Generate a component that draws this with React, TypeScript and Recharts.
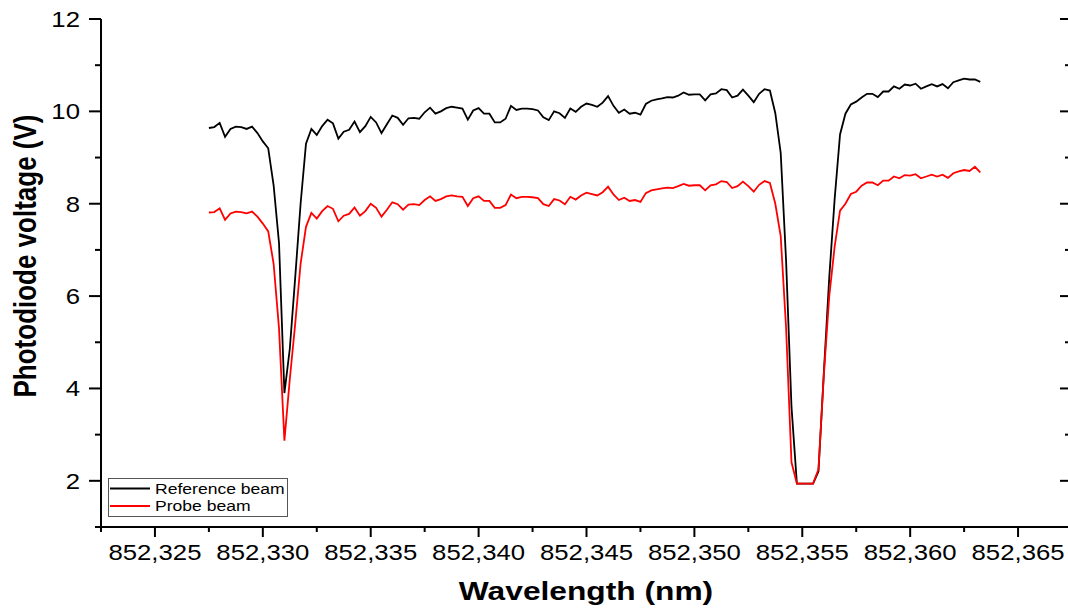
import { LineChart, Line, XAxis, YAxis, Legend } from "recharts";

// wavelength grid (nm)
const wavelengths = [
  852.3275, 852.32775, 852.328, 852.32825, 852.3285, 852.32875, 852.329, 852.32925,
  852.3295, 852.32975, 852.33, 852.33025, 852.3305, 852.33075, 852.331, 852.33125,
  852.3315, 852.33175, 852.332, 852.33225, 852.3325, 852.33275, 852.333, 852.33325,
  852.3335, 852.33375, 852.334, 852.33425, 852.3345, 852.33475, 852.335, 852.33525,
  852.3355, 852.33575, 852.336, 852.33625, 852.3365, 852.33675, 852.337, 852.33725,
  852.3375, 852.33775, 852.338, 852.33825, 852.3385, 852.33875, 852.339, 852.33925,
  852.3395, 852.33975, 852.34, 852.34025, 852.3405, 852.34075, 852.341, 852.34125,
  852.3415, 852.34175, 852.342, 852.34225, 852.3425, 852.34275, 852.343, 852.34325,
  852.3435, 852.34375, 852.344, 852.34425, 852.3445, 852.34475, 852.345, 852.34525,
  852.3455, 852.34575, 852.346, 852.34625, 852.3465, 852.34675, 852.347, 852.34725,
  852.3475, 852.34775, 852.348, 852.34825, 852.3485, 852.34875, 852.349, 852.34925,
  852.3495, 852.34975, 852.35, 852.35025, 852.3505, 852.35075, 852.351, 852.35125,
  852.3515, 852.35175, 852.352, 852.35225, 852.3525, 852.35275, 852.353, 852.35325,
  852.3535, 852.35375, 852.354, 852.35425, 852.3545, 852.35475, 852.355, 852.35525,
  852.3555, 852.35575, 852.356, 852.35625, 852.3565, 852.35675, 852.357, 852.35725,
  852.3575, 852.35775, 852.358, 852.35825, 852.3585, 852.35875, 852.359, 852.35925,
  852.3595, 852.35975, 852.36, 852.36025, 852.3605, 852.36075, 852.361, 852.36125,
  852.3615, 852.36175, 852.362, 852.36225, 852.3625, 852.36275, 852.363, 852.36325,
];

// photodiode voltage (V)
const referenceBeam = [
  9.64, 9.66, 9.75, 9.45, 9.62, 9.67, 9.66, 9.62,
  9.67, 9.53, 9.35, 9.2, 8.4, 7.15, 3.9, 4.86,
  6.4, 8.0, 9.3, 9.62, 9.49, 9.68, 9.82, 9.74,
  9.41, 9.56, 9.6, 9.78, 9.55, 9.68, 9.88, 9.76,
  9.53, 9.72, 9.91, 9.86, 9.71, 9.85, 9.86, 9.84,
  9.98, 10.08, 9.95, 10.0, 10.07, 10.1, 10.08, 10.06,
  9.82, 10.02, 10.07, 9.95, 9.95, 9.76, 9.76, 9.84,
  10.12, 10.03, 10.06, 10.06, 10.05, 10.02, 9.87, 9.81,
  10.0, 9.96, 9.86, 10.06, 9.99, 10.1, 10.17, 10.14,
  10.1, 10.19, 10.33, 10.12, 9.97, 10.04, 9.95, 9.97,
  9.93, 10.16, 10.23, 10.26, 10.28, 10.31, 10.3, 10.34,
  10.41, 10.36, 10.37, 10.37, 10.24, 10.37, 10.39, 10.48,
  10.46, 10.3, 10.34, 10.47, 10.34, 10.2, 10.38, 10.48,
  10.45, 9.96, 9.1, 6.76, 3.6, 1.94, 1.94, 1.94,
  1.94, 2.2, 4.35, 6.4, 8.1, 9.5, 9.95, 10.15,
  10.21, 10.3, 10.38, 10.38, 10.31, 10.43, 10.43, 10.54,
  10.49, 10.58, 10.56, 10.6, 10.49, 10.54, 10.59, 10.54,
  10.59, 10.5, 10.63, 10.67, 10.71, 10.69, 10.69, 10.64,
];

const probeBeam = [
  7.81, 7.82, 7.9, 7.65, 7.79, 7.83, 7.82, 7.79,
  7.83, 7.72, 7.57, 7.4, 6.7, 5.3, 2.87, 4.2,
  5.4, 6.7, 7.5, 7.8, 7.68, 7.84, 7.95, 7.89,
  7.62, 7.74, 7.78, 7.92, 7.74, 7.84, 8.0, 7.91,
  7.72, 7.87, 8.03, 7.99, 7.87, 7.98, 7.99, 7.97,
  8.08, 8.16, 8.06, 8.1, 8.16, 8.18, 8.16, 8.15,
  7.95, 8.12, 8.16, 8.06, 8.06, 7.91, 7.91, 7.97,
  8.2, 8.12, 8.15, 8.15, 8.14, 8.12, 7.99, 7.95,
  8.1, 8.07, 7.99, 8.15, 8.09, 8.18, 8.24, 8.21,
  8.18, 8.25, 8.37, 8.2, 8.08, 8.13, 8.06, 8.08,
  8.04, 8.23, 8.29, 8.31, 8.33, 8.35, 8.34, 8.38,
  8.43, 8.39, 8.4, 8.4, 8.29, 8.4, 8.42, 8.49,
  8.47, 8.34, 8.38, 8.48, 8.38, 8.26, 8.41, 8.49,
  8.45, 8.0, 7.3, 5.31, 2.4, 1.94, 1.94, 1.94,
  1.94, 2.25, 4.3, 6.0, 7.07, 7.85, 8.0, 8.21,
  8.26, 8.39, 8.46, 8.46, 8.4, 8.5, 8.5, 8.59,
  8.55, 8.62, 8.61, 8.64, 8.55, 8.59, 8.63, 8.59,
  8.63, 8.56, 8.66, 8.7, 8.73, 8.71, 8.8, 8.68,
];

const seriesNames = ["Reference beam", "Probe beam"];
const xMajorTicks = [852.325, 852.33, 852.335, 852.34, 852.345, 852.35, 852.355, 852.36, 852.365];
const xMinorTicks = [852.3225, 852.3275, 852.3325, 852.3375, 852.3425, 852.3475, 852.3525, 852.3575, 852.3625, 852.3675];
const yMajorTicks = [2, 4, 6, 8, 10, 12];
const yMinorTicks = [1, 3, 5, 7, 9, 11];

const data = wavelengths.map((wl, i) => ({
  wl,
  reference: referenceBeam[i],
  probe: probeBeam[i],
}));

const xTicks = [...xMinorTicks, ...xMajorTicks].sort((a, b) => a - b);
const yTicks = [...yMinorTicks, ...yMajorTicks].sort((a, b) => a - b);
const xDomain = [852.3225, 852.3675];
const yDomain = [1, 12];

const FONT = '"Liberation Sans", Arial, sans-serif';
const STRETCH = 1.17;
const axisLine = { stroke: "#000", strokeWidth: 2 };

const isMajor = (v: number, majors: number[]) =>
  majors.some((m) => Math.abs(m - v) < 1e-7);

function BottomTick(props: any) {
  const { x, y, payload } = props;
  const major = isMajor(payload.value, xMajorTicks);
  return (
    <g>
      <line x1={x} x2={x} y1={y} y2={y + (major ? 10 : 5)} stroke="#000" strokeWidth={2} />
      {major && (
        <text
          transform={`translate(${x},${y + 33}) scale(${STRETCH},1)`}
          textAnchor="middle"
          fontFamily={FONT}
          fontSize={22}
          fill="#000"
        >
          {Number(payload.value).toFixed(3).replace(".", ",")}
        </text>
      )}
    </g>
  );
}

function TopTick(props: any) {
  const { x, y, payload } = props;
  const major = isMajor(payload.value, xMajorTicks);
  return <line x1={x} x2={x} y1={y} y2={y + (major ? 10 : 5)} stroke="#000" strokeWidth={2} />;
}

function LeftTick(props: any) {
  const { x, y, payload } = props;
  const major = isMajor(payload.value, yMajorTicks);
  return (
    <g>
      <line x1={x - (major ? 12 : 6)} x2={x} y1={y} y2={y} stroke="#000" strokeWidth={2} />
      {major && (
        <text
          transform={`translate(${x - 21},${y + 8}) scale(${STRETCH},1)`}
          textAnchor="end"
          fontFamily={FONT}
          fontSize={22}
          fill="#000"
        >
          {payload.value}
        </text>
      )}
    </g>
  );
}

function RightTick(props: any) {
  const { x, y, payload } = props;
  const major = isMajor(payload.value, yMajorTicks);
  return <line x1={x - (major ? 12 : 7)} x2={x} y1={y} y2={y} stroke="#000" strokeWidth={2} />;
}

function LegendBox({ payload }: any) {
  const items = [...(payload || [])].sort(
    (a: any, b: any) => seriesNames.indexOf(a.value) - seriesNames.indexOf(b.value)
  );
  return (
    <svg width={180} height={39} style={{ display: "block" }}>
      <rect x={0.5} y={0.5} width={179} height={38} fill="#fff" stroke="#555" strokeWidth={1} />
      {items.map((entry: any, i: number) => (
        <g key={entry.value}>
          <line x1={2} x2={42} y1={10.5 + i * 17.5} y2={10.5 + i * 17.5} stroke={entry.color} strokeWidth={1.8} />
          <text
            transform={`translate(47,${15.5 + i * 17.5}) scale(${STRETCH},1)`}
            fontFamily={FONT}
            fontSize={15}
            fill="#000"
          >
            {entry.value}
          </text>
        </g>
      ))}
    </svg>
  );
}

export default function App() {
  return (
    <div
      style={{
        position: "fixed",
        left: 0,
        top: 0,
        width: 1068,
        height: 610,
        overflow: "hidden",
        background: "#fff",
      }}
    >
      <div style={{ position: "absolute", left: 8, top: 8 }}>
        <LineChart
          width={1075}
          height={602}
          data={data}
          margin={{ top: 11, right: 0, bottom: 0, left: 0 }}
        >
          <XAxis
            dataKey="wl"
            type="number"
            domain={xDomain}
            allowDataOverflow
            ticks={xTicks}
            interval={0}
            height={83}
            tickSize={0}
            tickMargin={0}
            tickLine={false}
            axisLine={axisLine}
            tick={<BottomTick />}
          />
          <XAxis
            xAxisId="top"
            orientation="top"
            type="number"
            domain={xDomain}
            allowDataOverflow
            ticks={xTicks}
            interval={0}
            height={0}
            tickSize={0}
            tickMargin={0}
            tickLine={false}
            axisLine={axisLine}
            tick={<TopTick />}
          />
          <YAxis
            type="number"
            domain={yDomain}
            allowDataOverflow
            ticks={yTicks}
            interval={0}
            width={93}
            tickSize={0}
            tickMargin={0}
            tickLine={false}
            axisLine={axisLine}
            tick={<LeftTick />}
          />
          <YAxis
            yAxisId="right"
            orientation="right"
            type="number"
            domain={yDomain}
            allowDataOverflow
            ticks={yTicks}
            interval={0}
            width={11}
            tickSize={0}
            tickMargin={0}
            tickLine={false}
            axisLine={axisLine}
            tick={<RightTick />}
          />
          <Legend
            layout="vertical"
            align="center"
            verticalAlign="middle"
            wrapperStyle={{ left: 100, top: 470, width: 180, height: 39 }}
            content={(props: any) => <LegendBox payload={props.payload} />}
          />
          <Line
            type="linear"
            dataKey="reference"
            name="Reference beam"
            stroke="#000000"
            strokeWidth={1.8}
            dot={false}
            isAnimationActive={false}
          />
          <Line
            type="linear"
            dataKey="probe"
            name="Probe beam"
            stroke="#ff0000"
            strokeWidth={1.8}
            dot={false}
            isAnimationActive={false}
          />
          <text
            transform={`translate(578,592) scale(1.22,1)`}
            textAnchor="middle"
            fontFamily={FONT}
            fontWeight="bold"
            fontSize={26}
            fill="#000"
          >
            Wavelength (nm)
          </text>
          <text
            transform={`translate(28,248) scale(1.2,1) rotate(-90)`}
            textAnchor="middle"
            fontFamily={FONT}
            fontWeight="bold"
            fontSize={26}
            fill="#000"
          >
            Photodiode voltage (V)
          </text>
        </LineChart>
      </div>
    </div>
  );
}
